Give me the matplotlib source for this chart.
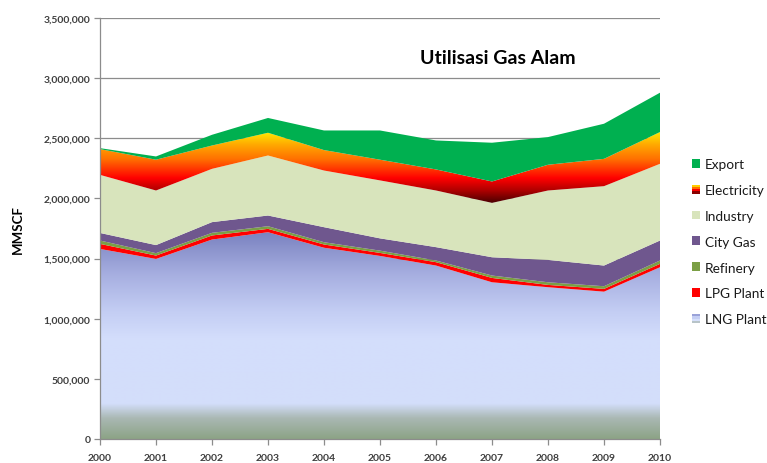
import matplotlib
matplotlib.use("Agg")
import matplotlib.pyplot as plt
import numpy as np
from matplotlib.colors import LinearSegmentedColormap
from matplotlib.patches import Patch, Rectangle
from matplotlib.legend_handler import HandlerBase
from matplotlib.ticker import FuncFormatter

# ── Data (MMSCF) ──────────────────────────────────────────────────────────────
years = [2000, 2001, 2002, 2003, 2004, 2005, 2006, 2007, 2008, 2009, 2010]

lng_plant   = [1580000, 1497000, 1658000, 1719000, 1590000, 1522000, 1442000, 1303000, 1262000, 1225000, 1428000]
lpg_plant   = [  42000,   28000,   34000,   28000,   27000,   25000,   28000,   36000,   19000,   23000,   28000]
refinery    = [  28000,   20000,   22000,   22000,   19000,   19000,   14000,   20000,   22000,   22000,   28000]
city_gas    = [  63000,   67000,   89000,   89000,  125000,  102000,  111000,  152000,  186000,  172000,  166000]
industry    = [ 483000,  454000,  443000,  499000,  471000,  482000,  471000,  452000,  577000,  660000,  638000]
electricity = [ 214000,  256000,  194000,  189000,  170000,  172000,  175000,  178000,  214000,  227000,  264000]
export      = [   8000,   27000,   89000,  123000,  163000,  243000,  241000,  322000,  230000,  292000,  327000]

SERIES = [
    ("LNG Plant",   lng_plant),
    ("LPG Plant",   lpg_plant),
    ("Refinery",    refinery),
    ("City Gas",    city_gas),
    ("Industry",    industry),
    ("Electricity", electricity),
    ("Export",      export),
]
SOLID = {
    "LPG Plant": "#ff0000",
    "Refinery":  "#7b9f45",
    "City Gas":  "#6f578e",
    "Industry":  "#d8e4bc",
    "Export":    "#00b050",
}

# gradients, mapped on absolute y over the band's own extent
fire = LinearSegmentedColormap.from_list("fire", [
    (0.00, "#4a0000"), (0.18, "#b00000"), (0.35, "#ff0000"),
    (0.62, "#ff7000"), (0.82, "#ffa800"), (1.00, "#ffe800")])
lng_cmap = LinearSegmentedColormap.from_list("lng", [
    (0.00, "#8ca386"), (0.10, "#aab8b4"), (0.17, "#d3defa"),
    (0.48, "#d4defc"), (0.62, "#c3cdf3"), (0.80, "#a6aee0"), (1.00, "#7a82c0")])

plt.rcParams.update({
    "font.family": ["Lato", "DejaVu Sans"],
})

fig = plt.figure(figsize=(7.67, 4.64), dpi=100)
ax = fig.add_axes([100 / 767, 24 / 464, 560 / 767, 421 / 464])

x = np.array(years, dtype=float)
base = np.zeros(len(years))
handles = {}
for name, vals in SERIES:
    top = base + np.array(vals)
    if name in SOLID:
        ax.fill_between(x, base, top, facecolor=SOLID[name], edgecolor="none",
                        linewidth=0, zorder=2)
        handles[name] = Patch(facecolor=SOLID[name], edgecolor="none")
    else:
        poly = ax.fill_between(x, base, top, facecolor="none", edgecolor="none",
                               linewidth=0, zorder=2)
        lo = base.min() if name == "Electricity" else 0.0
        hi = top.max()
        cmap = fire if name == "Electricity" else lng_cmap
        grad = np.linspace(0, 1, 256).reshape(-1, 1)
        im = ax.imshow(grad, extent=[x[0], x[-1], lo, hi], origin="lower",
                       aspect="auto", cmap=cmap, zorder=2, interpolation="bilinear")
        im.set_clip_path(poly.get_paths()[0], transform=ax.transData)
        handles[name] = Patch(facecolor=cmap(0.5), edgecolor="none")
    base = top

ax.set_xlim(2000, 2010)
ax.set_ylim(0, 3500000)
ax.set_yticks(np.arange(0, 3500001, 500000))
ax.set_xticks(years)
ax.yaxis.set_major_formatter(FuncFormatter(lambda v, _: f"{int(v):,}"))
ax.grid(axis="y", color="#8c8c8c", linewidth=0.9, zorder=1)
ax.set_axisbelow(True)

for s in ["top", "right"]:
    ax.spines[s].set_visible(False)
for s in ["left", "bottom"]:
    ax.spines[s].set_color("#8c8c8c")
    ax.spines[s].set_linewidth(0.9)
    ax.spines[s].set_zorder(3)
ax.tick_params(axis="both", colors="#8c8c8c", length=4, width=0.9,
               labelcolor="#3f3f3f", labelsize=7.5)
for lbl in ax.get_xticklabels() + ax.get_yticklabels():
    lbl.set_fontweight("bold")
ax.tick_params(axis="y", pad=3)
ax.tick_params(axis="x", pad=6)

ax.set_ylabel("MMSCF", fontsize=9.5, fontweight="bold", color="black", labelpad=14)
ax.text(0.711, 0.907, "Utilisasi Gas Alam", transform=ax.transAxes,
        ha="center", va="center", fontsize=14, fontweight="bold", color="black")


class StripeHandler(HandlerBase):
    def __init__(self, colors):
        super().__init__()
        self.colors = colors

    def create_artists(self, legend, orig_handle, xdescent, ydescent,
                       width, height, fontsize, trans):
        n = len(self.colors)
        arts = []
        for i, c in enumerate(self.colors):
            arts.append(Rectangle((-xdescent, -ydescent + height * (n - 1 - i) / n),
                                  width, height / n, facecolor=c,
                                  edgecolor="none", transform=trans))
        return arts


order = ["Export", "Electricity", "Industry", "City Gas", "Refinery", "LPG Plant", "LNG Plant"]
leg = fig.legend([handles[n] for n in order], order,
                 loc="upper left", bbox_to_anchor=(692 / 767, 1 - 159 / 464),
                 frameon=False, fontsize=9.8, handlelength=0.62, handleheight=0.62,
                 handletextpad=0.35, labelspacing=1.02, borderpad=0, borderaxespad=0,
                 handler_map={
                     handles["Electricity"]: StripeHandler(["#ffd000", "#ff7000", "#ff0000", "#8a0000"]),
                     handles["LNG Plant"]: StripeHandler(["#9aa2d8", "#c5cff4", "#d6e0fb", "#b8c4c8"]),
                 })
for t in leg.get_texts():
    t.set_color("#1a1a1a")

fig.savefig("out.png", dpi=100)
